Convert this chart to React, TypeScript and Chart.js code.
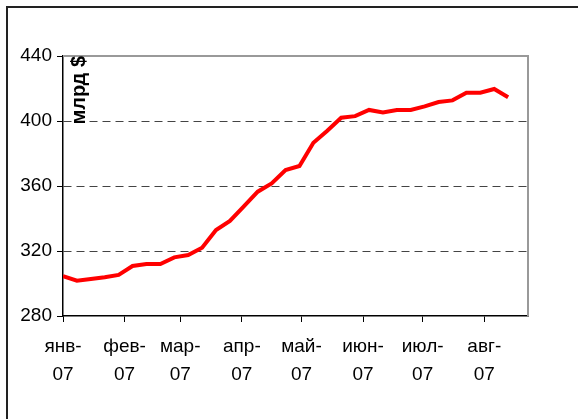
import React, { useEffect, useRef } from "react";
import { Chart, registerables } from "chart.js";

Chart.register(...registerables);

// Weekly observation dates (2007)
const dates = [
  "2007-01-01", "2007-01-08", "2007-01-15", "2007-01-22", "2007-01-29",
  "2007-02-05", "2007-02-12", "2007-02-19", "2007-02-26",
  "2007-03-05", "2007-03-12", "2007-03-19", "2007-03-26",
  "2007-04-02", "2007-04-09", "2007-04-16", "2007-04-23", "2007-04-30",
  "2007-05-07", "2007-05-14", "2007-05-21", "2007-05-28",
  "2007-06-04", "2007-06-11", "2007-06-18", "2007-06-25",
  "2007-07-02", "2007-07-09", "2007-07-16", "2007-07-23", "2007-07-30",
  "2007-08-06", "2007-08-13",
];

// Values, bn $
const values = [
  304.6, 301.7, 302.8, 303.8, 305.3,
  310.8, 312.0, 312.0, 316.1,
  317.5, 322.0, 332.9, 338.5,
  347.5, 356.5, 361.6, 369.8, 372.3,
  386.6, 394.0, 402.0, 403.0,
  406.8, 405.3, 406.8, 406.8,
  409.0, 411.7, 412.7, 417.4, 417.4,
  419.7, 414.6,
];

// Month tick positions and labels
const monthStarts = [
  "2007-01-01", "2007-02-01", "2007-03-01", "2007-04-01",
  "2007-05-01", "2007-06-01", "2007-07-01", "2007-08-01",
];
const monthLabels = ["янв-07", "фев-07", "мар-07", "апр-07", "май-07", "июн-07", "июл-07", "авг-07"];
const xMinDate = "2007-01-01";
const xMaxDate = "2007-08-23";

const yMin = 280;
const yMax = 440;
const yStep = 40;
const gridValues = [320, 360, 400];
const yTitle = "млрд $";

const dayNum = (s: string) => {
  const [y, m, d] = s.split("-").map(Number);
  return (Date.UTC(y, m - 1, d) - Date.UTC(2007, 0, 1)) / 86400000;
};

const FONT = "'Liberation Sans', Arial, Helvetica, sans-serif";

export default function App() {
  const ref = useRef<HTMLCanvasElement | null>(null);

  useEffect(() => {
    const canvas = ref.current;
    if (!canvas) return;
    const tickVals = monthStarts.map(dayNum);

    const decor = {
      id: "decor",
      beforeDraw(chart: any) {
        const { ctx, width, height } = chart;
        ctx.save();
        ctx.fillStyle = "#ffffff";
        ctx.fillRect(0, 0, width, height);
        ctx.restore();
      },
      afterDraw(chart: any) {
        const { ctx, chartArea: a } = chart;
        ctx.save();
        // plot frame top/right (gray)
        ctx.strokeStyle = "#999999";
        ctx.lineWidth = 2;
        ctx.beginPath();
        ctx.moveTo(a.left, a.top);
        ctx.lineTo(a.right, a.top);
        ctx.lineTo(a.right, a.bottom);
        ctx.stroke();
        // outer frame (left/top)
        ctx.strokeStyle = "#222222";
        ctx.lineWidth = 2;
        ctx.beginPath();
        ctx.moveTo(7, chart.height + 2);
        ctx.lineTo(7, 7);
        ctx.lineTo(chart.width + 2, 7);
        ctx.stroke();
        // y title inside plot area
        ctx.translate(a.left + 16, a.top);
        ctx.rotate(-Math.PI / 2);
        ctx.font = "bold 20px " + FONT;
        ctx.fillStyle = "#000";
        ctx.textAlign = "right";
        ctx.textBaseline = "middle";
        ctx.fillText(yTitle, 0, 0);
        ctx.restore();
      },
    };

    const chart = new Chart(canvas, {
      type: "line",
      data: {
        datasets: [
          {
            data: dates.map((d, i) => ({ x: dayNum(d), y: values[i] })),
            borderColor: "#ff0000",
            borderWidth: 4,
            pointRadius: 0,
            tension: 0,
            fill: false,
          },
        ],
      },
      options: {
        animation: false,
        responsive: false,
        devicePixelRatio: 1,
        layout: { padding: { left: 0, top: 56, right: 50, bottom: 0 } },
        plugins: {
          legend: { display: false },
          tooltip: { enabled: false },
          title: { display: false },
        },
        scales: {
          x: {
            type: "linear",
            min: dayNum(xMinDate),
            max: dayNum(xMaxDate),
            afterBuildTicks: (scale: any) => {
              scale.ticks = tickVals.map((v) => ({ value: v }));
            },
            afterFit: (scale: any) => {
              scale.height = 419 - 316;
            },
            ticks: {
              autoSkip: false,
              maxRotation: 0,
              minRotation: 0,
              padding: 11,
              color: "#000",
              font: { family: FONT, size: 19, lineHeight: 1.47 },
              callback: (v: any) => {
                const i = tickVals.indexOf(Number(v));
                if (i < 0) return "";
                const s = monthLabels[i];
                const k = s.indexOf("-");
                return [s.slice(0, k + 1), s.slice(k + 1)];
              },
            },
            grid: {
              drawOnChartArea: false,
              drawTicks: true,
              tickLength: 6,
              tickColor: "#000",
              tickWidth: 1,
              color: "#000",
            },
            border: { display: true, color: "#000", width: 1.5 },
          },
          y: {
            min: yMin,
            max: yMax,
            afterFit: (scale: any) => {
              scale.width = 63;
            },
            ticks: {
              stepSize: yStep,
              padding: 5,
              color: "#000",
              font: { family: FONT, size: 19 },
            },
            grid: {
              drawTicks: true,
              tickLength: 6,
              tickColor: "#000",
              tickWidth: 1,
              lineWidth: 1,
              color: (ctx: any) =>
                ctx.tick && gridValues.includes(ctx.tick.value) ? "#444444" : "rgba(0,0,0,0)",
            },
            border: { display: true, color: "#000", width: 1.5, dash: [8, 5] },
          },
        },
      },
      plugins: [decor],
    } as any);

    return () => chart.destroy();
  }, []);

  return (
    <div style={{ position: "fixed", left: 0, top: 0, width: 578, height: 419, background: "#fff" }}>
      <canvas ref={ref} width={578} height={419} style={{ display: "block" }} />
    </div>
  );
}
